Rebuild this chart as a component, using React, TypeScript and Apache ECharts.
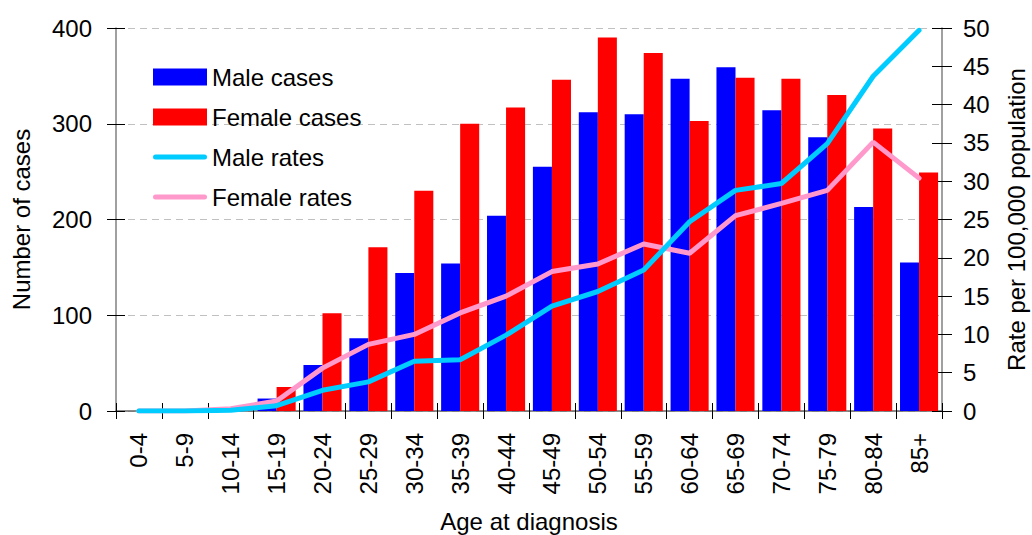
import React, { useEffect, useRef } from "react";
import * as echarts from "echarts";

const ageGroups = ["0-4", "5-9", "10-14", "15-19", "20-24", "25-29", "30-34", "35-39", "40-44", "45-49", "50-54", "55-59", "60-64", "65-69", "70-74", "75-79", "80-84", "85+"];
const maleCases = [0, 0, 0, 13, 48, 76, 144, 154, 204, 255, 312, 310, 347, 359, 314, 286, 213, 155];
const femaleCases = [0, 0, 0, 25, 102, 171, 230, 300, 317, 346, 390, 374, 303, 348, 347, 330, 295, 249];
const maleRates = [0, 0, 0.1, 0.7, 2.7, 3.8, 6.5, 6.7, 9.9, 13.7, 15.6, 18.4, 24.7, 28.8, 29.7, 34.9, 43.7, 49.7];
const femaleRates = [0, 0, 0.3, 1.3, 5.6, 8.7, 10.0, 12.8, 15.0, 18.2, 19.2, 21.8, 20.6, 25.5, 27.1, 28.8, 35.1, 30.4];

const FONT = "'Liberation Sans Narrow', 'Arial Narrow', 'Liberation Sans', Arial, sans-serif";
const LINE_ICON = "path://M0,0 L0,0 M54,17 L54,17 M2.5,6 L51.5,6 A2.5,2.5 0 0 1 51.5,11 L2.5,11 A2.5,2.5 0 0 1 2.5,6 Z";

export default function App() {
  const ref = useRef<HTMLDivElement>(null);
  useEffect(() => {
    document.body.style.margin = "0";
    const chart = echarts.init(ref.current!, null, { renderer: "svg" });
    const tickStyle = { color: "#000", width: 1 };
    const labelStyle = { color: "#000", fontSize: 24, fontFamily: FONT };
    const nameStyle = { fontSize: 24, fontFamily: FONT, color: "#000" };
    chart.setOption({
      animation: false,
      backgroundColor: "#fff",
      textStyle: { fontFamily: FONT },
      grid: { left: 116, right: 90, top: 28, bottom: 124, containLabel: false, outerBoundsMode: "none" },
      legend: {
        orient: "vertical",
        left: 148,
        top: 60,
        itemWidth: 54,
        itemHeight: 17,
        itemGap: 16,
        textStyle: { fontSize: 24, fontFamily: FONT, color: "#000" },
        data: [
          { name: "Male cases", icon: "rect" },
          { name: "Female cases", icon: "rect" },
          { name: "Male rates", icon: LINE_ICON },
          { name: "Female rates", icon: LINE_ICON },
        ],
      },
      xAxis: [
        {
          type: "category",
          data: ageGroups,
          name: "Age at diagnosis",
          nameLocation: "middle",
          nameGap: 98,
          nameTextStyle: nameStyle,
          axisLine: { lineStyle: { color: "#666", width: 1.5 } },
          axisTick: { show: true, inside: false, length: 8, lineStyle: tickStyle },
          axisLabel: { ...labelStyle, rotate: 90, margin: 22, interval: 0 },
        },
        {
          type: "category",
          data: ageGroups,
          position: "bottom",
          axisLine: { show: false },
          axisTick: { show: true, inside: true, length: 8, lineStyle: tickStyle },
          axisLabel: { show: false },
        },
      ],
      yAxis: [
        {
          type: "value",
          min: 0,
          max: 400,
          interval: 100,
          position: "left",
          name: "Number of cases",
          nameLocation: "middle",
          nameGap: 83,
          nameTextStyle: nameStyle,
          axisLine: { show: true, lineStyle: { color: "#808080", width: 1.5 } },
          axisTick: { show: true, inside: false, length: 9, lineStyle: tickStyle },
          axisLabel: { ...labelStyle, margin: 24 },
          splitLine: { show: true, lineStyle: { color: "#c0c0c0", type: [7, 5], width: 1 } },
        },
        {
          type: "value",
          min: 0,
          max: 50,
          interval: 5,
          position: "right",
          name: "Rate per 100,000 population",
          nameLocation: "middle",
          nameGap: 62,
          nameRotate: 90,
          nameTextStyle: nameStyle,
          axisLine: { show: true, lineStyle: { color: "#808080", width: 1.5 } },
          axisTick: { show: true, inside: false, length: 10, lineStyle: tickStyle },
          axisLabel: { ...labelStyle, margin: 21 },
          splitLine: { show: false },
        },
        {
          type: "value",
          min: 0,
          max: 400,
          interval: 100,
          position: "left",
          axisLine: { show: false },
          axisTick: { show: true, inside: true, length: 9, lineStyle: tickStyle },
          axisLabel: { show: false },
          splitLine: { show: false },
        },
        {
          type: "value",
          min: 0,
          max: 50,
          interval: 5,
          position: "right",
          axisLine: { show: false },
          axisTick: { show: true, inside: true, length: 10, lineStyle: tickStyle },
          axisLabel: { show: false },
          splitLine: { show: false },
        },
      ],
      series: [
        {
          name: "Male cases",
          type: "bar",
          data: maleCases,
          yAxisIndex: 0,
          barGap: "0%",
          barCategoryGap: "17%",
          itemStyle: { color: "#0000ff" },
        },
        {
          name: "Female cases",
          type: "bar",
          data: femaleCases,
          yAxisIndex: 0,
          barGap: "0%",
          barCategoryGap: "17%",
          itemStyle: { color: "#ff0000" },
        },
        {
          name: "Male rates",
          type: "line",
          data: maleRates,
          yAxisIndex: 1,
          symbol: "none",
          showSymbol: false,
          lineStyle: { color: "#00ccff", width: 5, cap: "round" },
          itemStyle: { color: "#00ccff" },
          z: 5,
        },
        {
          name: "Female rates",
          type: "line",
          data: femaleRates,
          yAxisIndex: 1,
          symbol: "none",
          showSymbol: false,
          lineStyle: { color: "#ff99cc", width: 5, cap: "round" },
          itemStyle: { color: "#ff99cc" },
          z: 4,
        },
      ],
    });
    return () => chart.dispose();
  }, []);
  return <div ref={ref} style={{ width: 1032, height: 535 }} />;
}
